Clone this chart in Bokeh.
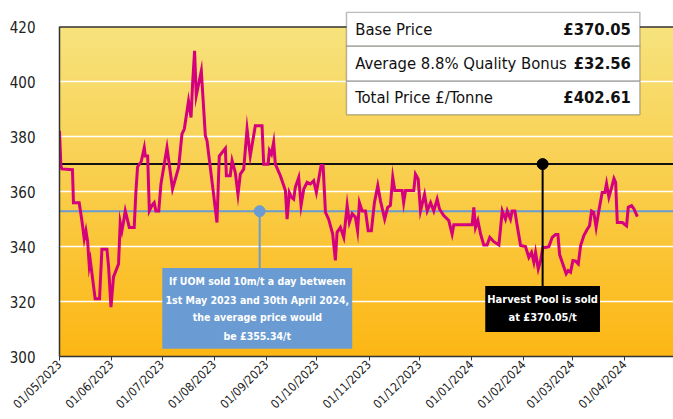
import math
import numpy as np
import pandas as pd
from bokeh.plotting import figure
from bokeh.models import Range1d, FixedTicker, DatetimeTickFormatter, Span, BoxAnnotation, Label
from bokeh.embed import file_html
from bokeh.resources import INLINE

# ---------------- data ----------------
start_date = "2023-05-01"
day_offset = [0, 0.8, 1.4, 7.7, 8.3, 11.7, 13.3, 14.7, 15.7, 16.7, 17.7, 18.3, 21.2, 23.8, 25.2, 28.2,
              29.2, 30.6, 32.1, 35.1, 36.1, 37.1, 38.0, 39.1, 41.5, 44.4, 45.4, 46.4, 48.6, 50.4, 51.0,
              52.4, 53.4, 55.0, 56.3, 57.3, 59.0, 60.3, 63.9, 64.8, 67.2, 70.8, 72.8, 74.2, 76.7, 78.2,
              79.1, 80.3, 81.3, 84.3, 86.7, 87.7, 91.6, 93.6, 95.0, 98.6, 99.2, 101.5, 102.6, 104.5,
              106.1, 107.5, 109.5, 111.5, 113.4, 116.4, 120.4, 121.4, 124.0, 124.8, 126.0, 127.3, 128.3,
              131.3, 134.3, 135.3, 136.6, 137.8, 139.2, 140.2, 142.2, 143.6, 145.2, 147.2, 149.1, 151.1,
              152.7, 155.5, 156.7, 158.1, 160.0, 162.4, 164.0, 165.0, 167.0, 169.0, 171.0, 172.3, 174.0,
              175.9, 177.2, 178.3, 179.9, 181.9, 183.5, 185.4, 187.2, 189.2, 190.8, 193.3, 195.1, 196.7,
              198.1, 199.3, 203.7, 204.6, 205.7, 210.6, 211.6, 213.2, 214.6, 217.0, 218.6, 220.6, 222.5,
              224.5, 225.9, 228.4, 231.4, 233.4, 234.4, 245.3, 246.3, 247.3, 248.7, 250.3, 252.2, 254.2,
              255.8, 258.2, 261.2, 263.2, 265.1, 266.2, 268.1, 269.1, 270.7, 272.1, 274.1, 277.0, 279.0,
              280.6, 282.0, 283.0, 284.6, 286.0, 287.3, 288.9, 290.9, 292.9, 294.9, 296.3, 297.3, 299.2,
              301.2, 302.4, 303.8, 305.2, 306.8, 308.4, 309.8, 311.7, 313.8, 315.1, 316.3, 317.6, 319.0,
              320.6, 322.6, 324.2, 325.2, 326.6, 328.0, 329.6, 330.6, 331.6, 334.6, 337.1, 338.1, 340.1,
              341.5, 343.5]
price = [382.2, 369.5, 368.3, 368, 356, 356, 349.5, 342.8, 345.8, 342, 333, 335, 321, 321, 339, 339,
         332.5, 318, 329, 333.7, 348.8, 345.8, 348.8, 353, 347, 347, 359.7, 369, 371, 376, 373,
         373, 353, 355, 356, 353, 353, 362.8, 376, 372, 361, 368.8, 381, 382.8, 393, 387,
         399, 411.3, 395, 404, 380.4, 378.5, 359, 348.8, 373, 375.8, 365.8, 365.8, 371.3, 367,
         359, 366.4, 368.2, 382.8, 373, 384, 384, 370, 370, 375, 373.7, 378, 370,
         365.8, 360.4, 350, 359.7, 358, 357.3, 361.6, 365.2, 355, 361, 363.4, 362.8, 364,
         359.7, 369.5, 369.5, 352.5, 350, 344.6, 335, 345.2, 347, 343.4, 355, 348.8, 352,
         350.7, 345.8, 356, 353, 353, 345.8, 345.8, 356, 362.2, 356.7, 350, 354.3, 355,
         365.2, 360.4, 360.4, 356, 360.4, 360.4, 366.4, 364.6, 353, 359, 353, 356, 353,
         357.3, 353.7, 351.3, 349.5, 344.6, 348, 348, 354.3, 347, 349.5, 344.6, 340.6, 340.6,
         343.4, 341.8, 340.6, 353, 350, 353, 350, 353, 353, 347.6, 340.4, 340, 336.1,
         337.9, 334.3, 337.9, 331.9, 334.9, 339.7, 339.7, 340, 343.4, 344.4, 344.4, 337.1, 333.7,
         330.1, 331.3, 330.7, 334.9, 334.7, 333.7, 340.4, 344, 346.4, 347.6, 353, 352.5, 347,
         353, 359.7, 359.7, 363, 358, 361, 364.8, 363.4, 348.8, 348.8, 347.6, 354.3, 354.9,
         353.7, 350.9]

month_ticks = pd.date_range("2023-05-01", "2024-04-01", freq="MS")
y_ticks = [300, 320, 340, 360, 380, 400, 420]

pool_price = 370.05
pool_day = 287.2
avg_line = 352.9
avg_day = 119.0

table_rows = ["Base Price", "Average 8.8% Quality Bonus", "Total Price £/Tonne"]
table_values = ["£370.05", "£32.56", "£402.61"]
avg_text = ["If UOM sold 10m/t a day between", "1st May 2023 and 30th April 2024,",
            "the average price would", "be £355.34/t"]
pool_text = ["Harvest Pool is sold", "at £370.05/t"]

# ---------------- helpers ----------------
start = pd.Timestamp(start_date)
dates = start + pd.to_timedelta(day_offset, unit="D")


def ms(day):
    return (start + pd.Timedelta(days=day)).timestamp() * 1000.0


FONT = "DejaVu Sans Condensed, Roboto Condensed, Liberation Sans Narrow, Liberation Sans, sans-serif"
PINK = "#D4007C"
BLUE = "#6A9BD2"
DARK = "#222222"

p = figure(width=673, height=419, x_axis_type="datetime", output_backend="svg",
           toolbar_location=None, title=None,
           x_range=Range1d(ms(0), ms(365)), y_range=Range1d(300, 425.6),
           min_border_left=59, min_border_right=0, min_border_top=11, min_border_bottom=63)
p.outline_line_color = None
p.background_fill_color = "white"

# gradient background (yellow top -> orange bottom)
N = 256
t = np.linspace(0, 1, N)[:, None]
top_c = np.array([247, 227, 126])
bot_c = np.array([253, 183, 20])
cols = bot_c + (top_c - bot_c) * t
img = np.empty((N, 1), dtype=np.uint32)
view = img.view(dtype=np.uint8).reshape((N, 1, 4))
view[:, 0, 0:3] = cols.astype(np.uint8)
view[:, 0, 3] = 255
p.image_rgba(image=[img], x=ms(0), y=300, dw=ms(365) - ms(0), dh=120, level="image")

# grid
p.xgrid.visible = False
p.ygrid.ticker = FixedTicker(ticks=[320, 340, 360, 380, 400])
p.ygrid.grid_line_color = "white"
p.ygrid.grid_line_width = 1.5

# axes
p.yaxis.ticker = FixedTicker(ticks=y_ticks)
p.yaxis.bounds = (300, 420)
p.yaxis.major_tick_out = 0
p.yaxis.major_tick_in = 0
p.yaxis.minor_tick_line_color = None
p.yaxis.axis_line_color = "#333333"
p.yaxis.axis_line_width = 1.5
p.yaxis.major_label_text_font = FONT
p.yaxis.major_label_text_font_size = "15px"
p.yaxis.major_label_text_color = DARK
p.yaxis.major_label_standoff = 24

p.xaxis.ticker = FixedTicker(ticks=[m.timestamp() * 1000.0 for m in month_ticks])
fmt = "%d/%m/%Y"
p.xaxis.formatter = DatetimeTickFormatter(years=fmt, months=fmt, days=fmt, hours=fmt,
                                          hourmin=fmt, minutes=fmt, minsec=fmt, seconds=fmt,
                                          milliseconds=fmt, microseconds=fmt)
p.xaxis.major_label_orientation = math.pi / 4
p.xaxis.major_tick_out = 4
p.xaxis.major_tick_in = 0
p.xaxis.minor_tick_line_color = None
p.xaxis.axis_line_color = "#333333"
p.xaxis.major_tick_line_color = "#333333"
p.xaxis.axis_line_width = 1.5
p.xaxis.major_label_text_font = FONT
p.xaxis.major_label_text_font_size = "12px"
p.xaxis.major_label_text_color = DARK
p.xaxis.major_label_standoff = 2

# horizontal reference lines (under the price line)
p.add_layout(Span(location=420, dimension="width", line_color="#333333", line_width=1.5, level="underlay"))
p.add_layout(Span(location=avg_line, dimension="width", line_color=BLUE, line_width=2, level="underlay"))
p.add_layout(Span(location=pool_price, dimension="width", line_color="#111111", line_width=2, level="underlay"))

# price line
p.line(dates, price, line_color=PINK, line_width=3, line_join="miter")

# connectors and markers
p.segment(x0=[ms(avg_day)], y0=[avg_line], x1=[ms(avg_day)], y1=[332.2], line_color=BLUE, line_width=2)
p.scatter(x=[ms(avg_day)], y=[avg_line], size=11, fill_color=BLUE, line_color=BLUE)
p.segment(x0=[ms(pool_day)], y0=[pool_price], x1=[ms(pool_day)], y1=[325.7], line_color="#000000", line_width=2)
p.scatter(x=[ms(pool_day)], y=[pool_price], size=11, fill_color="#000000", line_color="#000000")

# annotation boxes
p.add_layout(BoxAnnotation(left=ms(61.1), right=ms(174.0), bottom=302.8, top=332.2,
                           fill_color=BLUE, fill_alpha=1.0, line_color=None))
p.add_layout(BoxAnnotation(left=ms(253.1), right=ms(321.3), bottom=308.9, top=325.7,
                           fill_color="#000000", fill_alpha=1.0, line_color=None))

avg_y = [327.4, 320.7, 314.2, 307.6]
for txt, yy in zip(avg_text, avg_y):
    p.add_layout(Label(x=ms(117.6), y=yy, text=txt, text_align="center", text_baseline="middle",
                       text_font=FONT, text_font_style="bold", text_font_size="10.5px",
                       text_color="white"))
pool_y = [320.7, 314.2]
for txt, yy in zip(pool_text, pool_y):
    p.add_layout(Label(x=ms(pool_day), y=yy, text=txt, text_align="center", text_baseline="middle",
                       text_font=FONT, text_font_style="bold", text_font_size="11px",
                       text_color="white"))

# table
row_edges = [425.3, 412.98, 400.25, 388.0]
for i, (lab, val) in enumerate(zip(table_rows, table_values)):
    top, bot = row_edges[i], row_edges[i + 1]
    p.add_layout(BoxAnnotation(left=ms(170.6), right=ms(345.0), bottom=bot, top=top,
                               fill_color="white", fill_alpha=1.0, line_color="#222222", line_width=1.5))
    yc = (top + bot) / 2
    p.add_layout(Label(x=ms(175.8), y=yc, text=lab, text_align="left", text_baseline="middle",
                       text_font=FONT, text_font_size="16.5px", text_color="#111111"))
    p.add_layout(Label(x=ms(339.7), y=yc, text=val, text_align="right", text_baseline="middle",
                       text_font=FONT, text_font_style="bold", text_font_size="16.5px",
                       text_color="#111111"))

open("out.html", "w").write(file_html(p, INLINE))
